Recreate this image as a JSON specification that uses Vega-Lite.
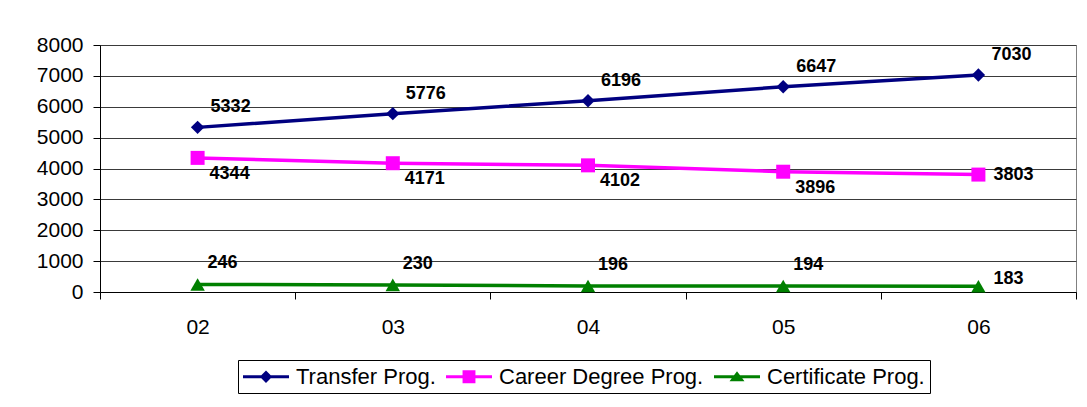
{
  "$schema": "https://vega.github.io/schema/vega-lite/v6.json",
  "autosize": {"type": "none"},
  "padding": {"left": 100, "top": 45, "right": 11, "bottom": 115},
  "width": 976,
  "height": 247,
  "background": "white",
  "config": {
    "font": "Liberation Sans",
    "view": {"stroke": "#808080", "strokeWidth": 1},
    "axis": {"labelFont": "Liberation Sans", "labelColor": "black", "domainColor": "black", "tickColor": "black", "labelFontSize": 21, "tickSize": 7, "title": null},
    "legend": {"labelFont": "Liberation Sans", "labelFontSize": 22, "labelColor": "black", "labelLimit": 0}
  },
  "data": {
    "values": [
      {"year": "02", "series": "Transfer Prog.", "value": 5332},
      {"year": "03", "series": "Transfer Prog.", "value": 5776},
      {"year": "04", "series": "Transfer Prog.", "value": 6196},
      {"year": "05", "series": "Transfer Prog.", "value": 6647},
      {"year": "06", "series": "Transfer Prog.", "value": 7030},
      {"year": "02", "series": "Career Degree Prog.", "value": 4344},
      {"year": "03", "series": "Career Degree Prog.", "value": 4171},
      {"year": "04", "series": "Career Degree Prog.", "value": 4102},
      {"year": "05", "series": "Career Degree Prog.", "value": 3896},
      {"year": "06", "series": "Career Degree Prog.", "value": 3803},
      {"year": "02", "series": "Certificate Prog.", "value": 246},
      {"year": "03", "series": "Certificate Prog.", "value": 230},
      {"year": "04", "series": "Certificate Prog.", "value": 196},
      {"year": "05", "series": "Certificate Prog.", "value": 194},
      {"year": "06", "series": "Certificate Prog.", "value": 183}
    ]
  },
  "encoding": {
    "x": {
      "field": "year", "type": "ordinal",
      "scale": {"type": "band", "paddingInner": 0, "paddingOuter": 0},
      "axis": {"tickBand": "extent", "labelAngle": 0, "labelPadding": 17, "domainColor": "black"}
    },
    "y": {
      "field": "value", "type": "quantitative",
      "scale": {"domain": [0, 8000], "nice": false},
      "axis": {"values": [0, 1000, 2000, 3000, 4000, 5000, 6000, 7000, 8000], "format": "d", "labelPadding": 10, "grid": true, "gridColor": "#3a3a3a", "gridWidth": 1}
    }
  },
  "layer": [
    {
      "transform": [{"filter": "datum.series == 'Transfer Prog.'"}],
      "mark": {"type": "line", "strokeWidth": 3.5, "color": "#000080"}
    },
    {
      "transform": [{"filter": "datum.series == 'Career Degree Prog.'"}],
      "mark": {"type": "line", "strokeWidth": 3.5, "color": "#FF00FF"}
    },
    {
      "transform": [{"filter": "datum.series == 'Certificate Prog.'"}],
      "mark": {"type": "line", "strokeWidth": 3.5, "color": "#008000"}
    },
    {
      "transform": [{"filter": "datum.series == 'Transfer Prog.'"}],
      "mark": {"type": "point", "shape": "diamond", "size": 180, "filled": true, "color": "#000080", "opacity": 1}
    },
    {
      "transform": [{"filter": "datum.series == 'Career Degree Prog.'"}],
      "mark": {"type": "point", "shape": "square", "size": 196, "filled": true, "color": "#FF00FF", "opacity": 1}
    },
    {
      "transform": [{"filter": "datum.series == 'Certificate Prog.'"}],
      "mark": {"type": "point", "shape": "triangle-up", "size": 210, "filled": true, "color": "#008000", "opacity": 1}
    },
    {
      "transform": [{"filter": "datum.value < 0"}],
      "mark": {"type": "point", "filled": true, "size": 529, "opacity": 1},
      "encoding": {
        "color": {
          "field": "series", "type": "nominal",
          "scale": {"domain": ["Transfer Prog.", "Career Degree Prog.", "Certificate Prog."], "range": ["#000080", "#FF00FF", "#008000"]},
          "legend": {"title": null, "orient": "none", "legendX": 138, "legendY": 315, "direction": "horizontal", "strokeColor": "black", "padding": 5, "symbolSize": 529, "symbolStrokeWidth": 0, "labelOffset": 30, "columnPadding": 10, "symbolOpacity": 1}
        },
        "shape": {
          "field": "series", "type": "nominal",
          "scale": {"domain": ["Transfer Prog.", "Career Degree Prog.", "Certificate Prog."], "range": [
            "M-1,-0.14L3,-0.14L3,0.14L-1,0.14Z M1,-0.54L1.54,0L1,0.54L0.46,0Z",
            "M-1,-0.14L3,-0.14L3,0.14L-1,0.14Z M0.44,-0.56L1.56,-0.56L1.56,0.56L0.44,0.56Z",
            "M-1,-0.14L3,-0.14L3,0.14L-1,0.14Z M1,-0.48L1.65,0.4L0.35,0.4Z"
          ]},
          "legend": {"title": null, "orient": "none", "legendX": 138, "legendY": 315, "direction": "horizontal", "strokeColor": "black", "padding": 5, "symbolSize": 529, "symbolStrokeWidth": 0, "labelOffset": 30, "columnPadding": 10, "symbolOpacity": 1}
        }
      }
    },
    {
      "transform": [{"filter": "datum.series == 'Transfer Prog.'"}],
      "mark": {"type": "text", "align": "left", "baseline": "middle", "dx": 13, "dy": -20, "fontSize": 18, "fontWeight": "bold", "color": "black"},
      "encoding": {"text": {"field": "value", "type": "quantitative", "format": "d"}}
    },
    {
      "transform": [{"filter": "datum.series == 'Career Degree Prog.' && datum.year != '06'"}],
      "mark": {"type": "text", "align": "left", "baseline": "middle", "dx": 12, "dy": 16, "fontSize": 18, "fontWeight": "bold", "color": "black"},
      "encoding": {"text": {"field": "value", "type": "quantitative", "format": "d"}}
    },
    {
      "transform": [{"filter": "datum.series == 'Career Degree Prog.' && datum.year == '06'"}],
      "mark": {"type": "text", "align": "left", "baseline": "middle", "dx": 15, "dy": 0, "fontSize": 18, "fontWeight": "bold", "color": "black"},
      "encoding": {"text": {"field": "value", "type": "quantitative", "format": "d"}}
    },
    {
      "transform": [{"filter": "datum.series == 'Certificate Prog.' && datum.year != '06'"}],
      "mark": {"type": "text", "align": "left", "baseline": "middle", "dx": 10, "dy": -21, "fontSize": 18, "fontWeight": "bold", "color": "black"},
      "encoding": {"text": {"field": "value", "type": "quantitative", "format": "d"}}
    },
    {
      "transform": [{"filter": "datum.series == 'Certificate Prog.' && datum.year == '06'"}],
      "mark": {"type": "text", "align": "left", "baseline": "middle", "dx": 15, "dy": -7, "fontSize": 18, "fontWeight": "bold", "color": "black"},
      "encoding": {"text": {"field": "value", "type": "quantitative", "format": "d"}}
    }
  ]
}
